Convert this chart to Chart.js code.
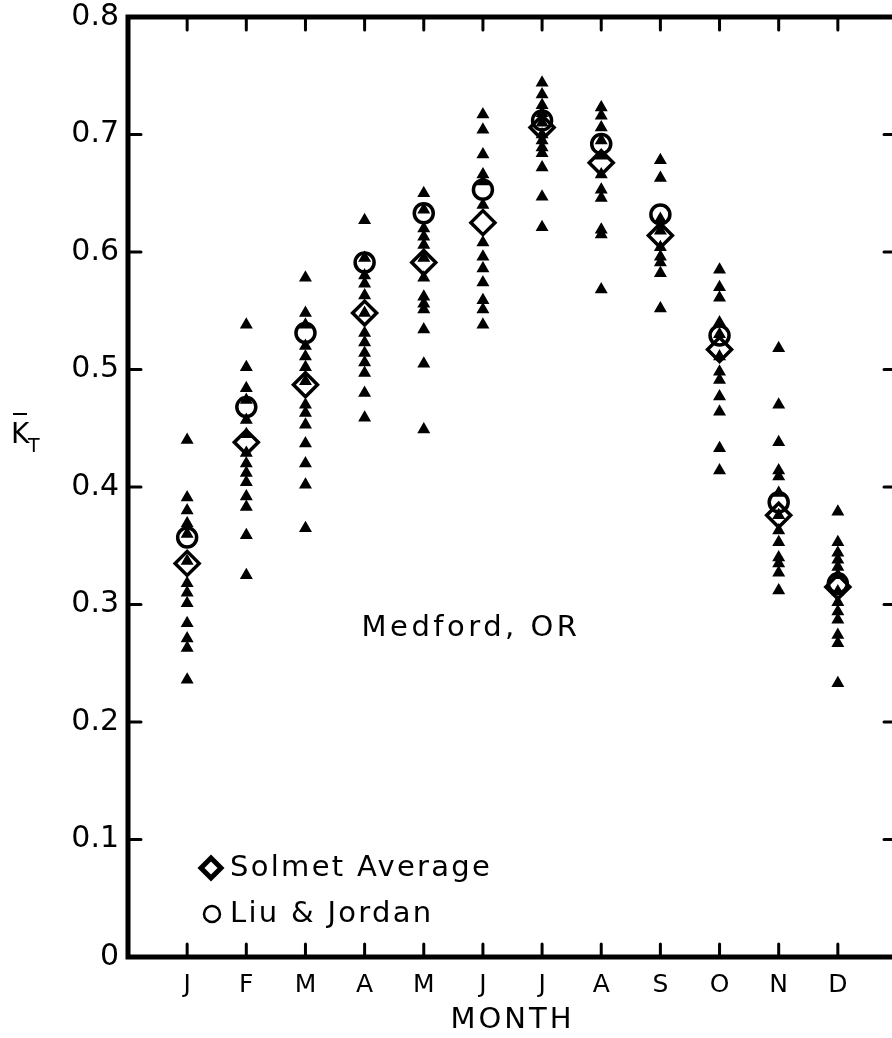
<!DOCTYPE html>
<html>
<head>
<meta charset="utf-8">
<script src="https://cdn.jsdelivr.net/npm/chart.js@4/dist/chart.umd.min.js"></script>
<style>
  html, body { margin: 0; padding: 0; background: #fff; overflow: hidden; }
  #wrap { position: relative; width: 910px; height: 1038px; }
</style>
</head>
<body>
<div id="wrap"><canvas id="myChart" width="910" height="1038"></canvas></div>
<script>
var months = ["J", "F", "M", "A", "M", "J", "J", "A", "S", "O", "N", "D"];

// yearly monthly-average KT values (triangles), one list per month
var kJan = [0.440, 0.391, 0.380, 0.369, 0.360, 0.337, 0.318, 0.310, 0.301, 0.284, 0.271, 0.263, 0.236];
var kFeb = [0.538, 0.502, 0.484, 0.474, 0.457, 0.445, 0.429, 0.420, 0.412, 0.404, 0.392, 0.383, 0.359, 0.325];
var kMar = [0.578, 0.548, 0.538, 0.520, 0.511, 0.502, 0.490, 0.470, 0.463, 0.453, 0.437, 0.420, 0.402, 0.365];
var kApr = [0.627, 0.595, 0.580, 0.573, 0.563, 0.548, 0.531, 0.523, 0.514, 0.506, 0.497, 0.480, 0.459];
var kMay = [0.650, 0.636, 0.620, 0.613, 0.606, 0.595, 0.578, 0.562, 0.556, 0.551, 0.534, 0.505, 0.449];
var kJun = [0.717, 0.704, 0.683, 0.666, 0.660, 0.640, 0.608, 0.596, 0.586, 0.574, 0.559, 0.551, 0.538];
var kJul = [0.744, 0.734, 0.725, 0.718, 0.710, 0.700, 0.695, 0.689, 0.684, 0.672, 0.647, 0.621];
var kAug = [0.723, 0.716, 0.706, 0.695, 0.682, 0.666, 0.653, 0.646, 0.619, 0.615, 0.568];
var kSep = [0.678, 0.663, 0.628, 0.618, 0.604, 0.596, 0.591, 0.582, 0.552];
var kOct = [0.585, 0.570, 0.561, 0.540, 0.530, 0.511, 0.498, 0.491, 0.477, 0.464, 0.433, 0.414];
var kNov = [0.518, 0.470, 0.438, 0.414, 0.409, 0.395, 0.376, 0.363, 0.353, 0.340, 0.335, 0.327, 0.312];
var kDec = [0.379, 0.353, 0.344, 0.338, 0.332, 0.325, 0.311, 0.302, 0.294, 0.287, 0.274, 0.267, 0.233];

var solmet    = [0.335, 0.438, 0.487, 0.548, 0.591, 0.625, 0.706, 0.676, 0.614, 0.517, 0.376, 0.315];
var liuJordan = [0.357, 0.468, 0.531, 0.591, 0.633, 0.653, 0.712, 0.692, 0.632, 0.529, 0.387, 0.318];

var yearly = [kJan, kFeb, kMar, kApr, kMay, kJun, kJul, kAug, kSep, kOct, kNov, kDec];

var triPts = [];
yearly.forEach(function (vals, i) {
  vals.forEach(function (v) { triPts.push({ x: i + 1, y: v }); });
});
var solPts = solmet.map(function (v, i) { return { x: i + 1, y: v }; });
var ljPts = liuJordan.map(function (v, i) { return { x: i + 1, y: v }; });

var FONT = '"DejaVu Sans", sans-serif';

// box, inward ticks, labels drawn over the plot
var framePlugin = {
  id: 'frame',
  afterDraw: function (chart) {
    var ctx = chart.ctx, a = chart.chartArea;
    var xs = chart.scales.x, ys = chart.scales.y;
    var tl = 13;
    ctx.save();
    ctx.strokeStyle = '#000';
    ctx.lineCap = 'round';
    ctx.lineWidth = 3;
    for (var m = 1; m <= 12; m++) {
      var px = xs.getPixelForValue(m);
      ctx.beginPath();
      ctx.moveTo(px, a.bottom); ctx.lineTo(px, a.bottom - tl);
      ctx.moveTo(px, a.top); ctx.lineTo(px, a.top + tl);
      ctx.stroke();
    }
    for (var k = 1; k <= 7; k++) {
      var py = ys.getPixelForValue(k / 10);
      ctx.beginPath();
      ctx.moveTo(a.left, py); ctx.lineTo(a.left + tl, py);
      ctx.moveTo(a.right, py); ctx.lineTo(a.right - tl, py);
      ctx.stroke();
    }
    ctx.lineWidth = 5;
    ctx.lineCap = 'butt';
    ctx.strokeRect(a.left, a.top, a.right - a.left, a.bottom - a.top);

    ctx.fillStyle = '#000';
    ctx.textBaseline = 'middle';
    ctx.textAlign = 'center';
    ctx.letterSpacing = '3.5px';
    ctx.font = '29px ' + FONT;
    ctx.fillText('Medford, OR', 471, 628);
    ctx.letterSpacing = '3px';
    ctx.fillText('MONTH', (a.left + a.right) / 2, 1020);

    ctx.textAlign = 'left';
    ctx.letterSpacing = '2.3px';
    ctx.fillText('Solmet Average', 230, 868);
    ctx.fillText('Liu & Jordan', 230, 914);
    ctx.letterSpacing = '0px';
    ctx.fillStyle = 'rgba(0,0,0,0)';
    Chart.helpers.drawPoint(ctx, { pointStyle: 'rectRot', radius: 10, borderWidth: 2.5 }, 211, 868);
    ctx.lineWidth = 2.5;
    ctx.beginPath();
    ctx.arc(212, 914, 8, 0, Math.PI * 2);
    ctx.stroke();

    // y axis title: K-bar sub T
    ctx.fillStyle = '#000';
    ctx.font = '28px ' + FONT;
    ctx.textBaseline = 'alphabetic';
    ctx.fillText('K', 11, 443);
    ctx.lineWidth = 2;
    ctx.beginPath();
    ctx.moveTo(13, 414); ctx.lineTo(27, 414);
    ctx.stroke();
    ctx.font = '19px ' + FONT;
    ctx.fillText('T', 28, 452);
    ctx.restore();
  }
};

var chart = new Chart("myChart", {
  type: 'scatter',
  data: {
    datasets: [
      { label: 'Yearly', data: triPts, pointStyle: 'triangle', radius: 6,
        backgroundColor: '#000', borderColor: '#000', borderWidth: 1.5 },
      { label: 'Solmet Average', data: solPts, pointStyle: 'rectRot', radius: 12,
        backgroundColor: 'rgba(0,0,0,0)', borderColor: '#000', borderWidth: 3.5 },
      { label: 'Liu & Jordan', data: ljPts, pointStyle: 'circle', radius: 9.5,
        backgroundColor: 'rgba(0,0,0,0)', borderColor: '#000', borderWidth: 3.5 }
    ]
  },
  options: {
    responsive: false,
    animation: false,
    events: [],
    layout: { autoPadding: false, padding: { top: 17, right: 2, left: 0, bottom: 0 } },
    plugins: { legend: { display: false }, tooltip: { enabled: false } },
    scales: {
      x: {
        type: 'linear', min: 0, max: 13,
        afterFit: function (s) { s.height = 81; },
        grid: { display: false, drawTicks: false },
        border: { display: false },
        ticks: {
          stepSize: 1, autoSkip: false, padding: 13, color: '#000',
          font: { family: FONT, size: 25 },
          callback: function (v) { return (v >= 1 && v <= 12) ? months[v - 1] : ''; }
        }
      },
      y: {
        min: 0, max: 0.8,
        afterFit: function (s) { s.width = 128; },
        grid: { display: false, drawTicks: false },
        border: { display: false },
        ticks: {
          stepSize: 0.1, padding: 9, color: '#000',
          font: { family: FONT, size: 30, lineHeight: 0.5 },
          callback: function (v) { return v === 0 ? '0' : v.toFixed(1); }
        }
      }
    }
  },
  plugins: [framePlugin]
});
</script>
</body>
</html>
